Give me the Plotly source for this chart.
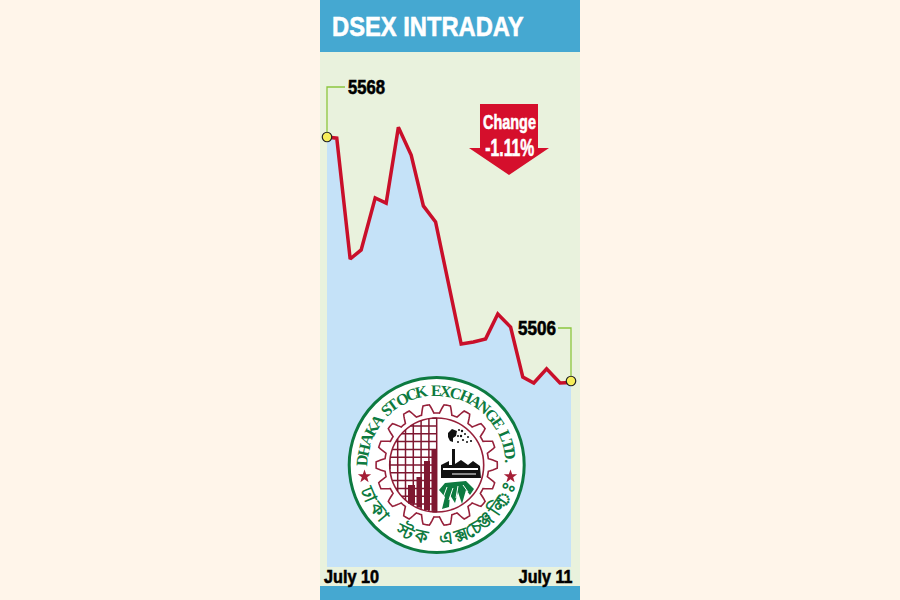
import json
import math
import plotly.graph_objects as go

times = [0, 0.8, 1.9, 2.8, 3.95, 4.85, 5.85, 6.9, 7.9, 8.9, 11.0, 12.0, 13.0, 14.0, 15.05, 16.05, 16.95, 18.0, 19.1, 20.0]
values = [5568.0, 5567.7, 5537.0, 5539.3, 5552.5, 5551.2, 5570.5, 5563.4, 5550.5, 5546.4, 5515.4, 5515.9, 5516.7, 5523.0, 5519.7, 5507.0, 5505.5, 5509.1, 5505.5, 5505.6]
title = "DSEX INTRADAY"
start_label, end_label = "July 10", "July 11"
high_label, low_label = "5568", "5506"
change_label, change_value = "Change", "-1.11%"
logo_top = "DHAKA STOCK EXCHANGE LTD."
logo_bottom = ["ঢা", "কা", "স্ট", "ক", "এ", "ক্স", "চে", "ঞ্জ", "লি", "ঃ"]
logo_bottom_angles = [203, 219, 244, 258, 277, 289, 300, 311, 326, 336]

W, H = 900, 600
def px(x): return x / W
def py(y): return 1 - y / H

BG, PANEL, HEAD = "#fff5ea", "#e9f2dd", "#45a8d1"
AREA, RED, LEAF, GREEN, MAROON = "#c5e2f8", "#c90f2a", "#8cc63f", "#0d7a40", "#7e1730"
SANS = "Liberation Sans"

fig = go.Figure()
shapes, ann = [], []

def rect(x0, y0, x1, y1, color, layer="below"):
    shapes.append(dict(type="rect", xref="paper", yref="paper", x0=px(x0), x1=px(x1), y0=py(y1), y1=py(y0),
                       fillcolor=color, line_width=0, layer=layer))
def poly(points, fill=None, line=None, width=1, layer="above", close=True):
    d = "M" + " L".join(f"{px(a):.5f},{py(b):.5f}" for a, b in points) + (" Z" if close else "")
    shapes.append(dict(type="path", xref="paper", yref="paper", path=d, fillcolor=fill or "rgba(0,0,0,0)",
                       line=dict(color=line or "rgba(0,0,0,0)", width=width if line else 0), layer=layer))
def circ(cx, cy, r, fill=None, line=None, width=1):
    shapes.append(dict(type="circle", xref="paper", yref="paper", x0=px(cx-r), x1=px(cx+r), y0=py(cy+r), y1=py(cy-r),
                       fillcolor=fill or "rgba(0,0,0,0)", line=dict(color=line or "rgba(0,0,0,0)", width=width if line else 0), layer="above"))
def text(x, y, s, size, color="black", font=SANS, anchor="center", angle=0, bold=True):
    ann.append(dict(xref="paper", yref="paper", x=px(x), y=py(y), text=f"<b>{s}</b>" if bold else s, showarrow=False,
                    xanchor=anchor, yanchor="middle", textangle=angle, borderpad=0, borderwidth=0,
                    font=dict(family=font, size=size, color=color)))

rect(320, 0, 580, 52, HEAD)
rect(320, 52, 580, 586, PANEL)
rect(320, 586, 580, 600, HEAD)

fig.add_trace(go.Scatter(x=times, y=values, mode="lines", fill="tozeroy", fillcolor=AREA,
                         line=dict(color=RED, width=3.5, shape="linear"), hoverinfo="skip"))
fig.add_trace(go.Scatter(x=[times[0], times[-1]], y=[values[0], 5506.0], mode="markers", cliponaxis=False,
                         marker=dict(color="#f6ee5a", size=9.5, line=dict(color="#222", width=1.2)), hoverinfo="skip"))

# leader lines
poly([(345, 87), (327, 87), (327, 132)], line=LEAF, width=1.3, close=False)
poly([(558, 328), (571, 328), (571, 376)], line=LEAF, width=1.3, close=False)
text(348, 87, high_label, 20, anchor="left")
text(518, 328, low_label, 20, anchor="left")

# change arrow
poly([(480, 104), (538, 104), (538, 148), (549, 148), (509, 175), (469, 148), (480, 148)], fill="#d50f2c")
text(509.5, 121, change_label, 21, color="white")
text(509.5, 148, change_value, 23, color="white")

text(324, 576, start_label, 19, anchor="left")
text(573, 576, end_label, 19, anchor="right")
text(332, 26, title, 28, color="white", anchor="left")

# logo
cx, cy = 436.7, 465
circ(cx, cy, 87.5, fill="white", line=GREEN, width=3)
gear = []
teeth = 18
for i in range(360):
    t = math.radians(i)
    wave = max(-1, min(1, 1.7 * math.cos(teeth * t)))
    r = 56.3 + 4.3 * wave
    gear.append((cx + r * math.cos(t), cy + r * math.sin(t)))
poly(gear, line="#96203a", width=1.6)
R = 47
circ(cx, cy, R, line="#96203a", width=1.6)
step = 7.8
for k in range(0, 7):
    x = cx - k * step
    h = math.sqrt(max(R*R - (x-cx)**2, 0))
    poly([(x, cy-h), (x, cy+h)], line=MAROON, width=1.5, close=False)
for k in range(-6, 7):
    y = cy + k * step
    h = math.sqrt(max(R*R - (y-cy)**2, 0))
    poly([(cx-h, y), (cx, y)], line=MAROON, width=1.5, close=False)
for x0, x1, top in [(408, 415, 485), (416.5, 422, 477), (424, 430, 461), (431.5, 437, 450)]:
    bot = cy + math.sqrt(R*R - ((x0+x1)/2-cx)**2) - 1
    poly([(x0, top), (x1, top), (x1, bot), (x0, bot)], fill=MAROON)
# factory
poly([(441, 478), (441, 465), (449, 461), (449, 465), (452, 465), (452, 449), (455, 449), (455, 464),
      (461, 460), (468, 465), (473, 461), (480, 466), (481, 478)], fill="#111")
poly([(443, 469), (478, 469)], line="white", width=2, close=False)
poly([(452, 474), (476, 474)], line="white", width=1, close=False)
# smoke
poly([(448, 433), (452, 429), (457, 431), (456, 436), (453, 438), (453, 442), (450, 441), (448, 437)], fill="#111")
for sx, sy, sr in [(459, 430, 1), (462, 431, 1.2), (465, 434, 1), (461, 436, 1.2), (458, 436, 1), (463, 440, 1.1),
                   (468, 437, 1), (471, 441, 1.1), (458, 442, 1), (467, 442, 1)]:
    circ(sx, sy, sr, fill="#111")
# palm
poly([(439, 490), (445, 483), (455, 482), (466, 481), (474, 489), (470, 495), (466, 490), (462, 504), (458, 492),
      (455, 503), (450, 495), (449, 507), (442, 509), (445, 497)], fill=GREEN)
for pts, w in [
    ([(447, 487), (443, 498)], 1),
    ([(453, 488), (449, 500)], 1),
    ([(458, 486), (456, 498)], 1),
    ([(463, 485), (468, 492)], 1),
]:
    poly(pts, line="white", width=w, close=False)

# ring text, letter by letter along the arc
glyph_w = {" ": .30, "I": .39, ".": .25, "T": .67, "L": .67, "S": .56, "E": .67, "H": .78, "D": .72, "O": .78,
           "K": .78, "C": .72, "A": .72, "X": .72, "N": .72, "G": .78, "R": .72}
ws = [glyph_w[c] for c in logo_top]
total = sum(ws) - ws[0] / 2 - ws[-1] / 2
start, end = 176, 3
pos = 0
for i, ch in enumerate(logo_top):
    if i:
        pos += (ws[i-1] + ws[i]) / 2
    if ch == " ":
        continue
    deg = start + (end - start) * pos / total
    a = math.radians(deg)
    text(cx + 74.5 * math.cos(a), cy - 74.5 * math.sin(a), ch, 16, color=GREEN, font="Liberation Serif",
         angle=90 - deg)
for sx in (364.5, 510.5):
    pts = []
    for j in range(10):
        r = 7 if j % 2 == 0 else 2.8
        t = -math.pi / 2 + j * math.pi / 5
        pts.append((sx + r * math.cos(t), 476.5 + r * math.sin(t)))
    poly(pts, fill="#a51e36")
for cluster, ang in zip(logo_bottom, logo_bottom_angles):
    a = math.radians(ang)
    text(cx + 73 * math.cos(a), cy - 73 * math.sin(a), cluster, 18, color=GREEN, font="Noto Sans", angle=270 - ang)

scale = 244 / 62
y_bottom = 5568 - (567 - 137) / scale
y_top = 5568 + (137 - 52) / scale
fig.update_layout(
    width=W, height=H, autosize=False, margin=dict(l=0, r=0, t=0, b=0), showlegend=False,
    paper_bgcolor=BG, plot_bgcolor="rgba(0,0,0,0)", shapes=shapes, annotations=ann,
    xaxis=dict(domain=[px(327), px(571)], range=[times[0], times[-1]], visible=False),
    yaxis=dict(domain=[py(567), py(52)], range=[y_bottom, y_top], visible=False),
)

# the reference uses a condensed face: narrow these labels to their measured widths
narrow = {title: 192, high_label: 37, low_label: 38, start_label: 55, end_label: 54, change_label: 53, change_value: 49}
post = """
document.body.style.margin='0';
var narrow = %s;
document.querySelectorAll('.annotation-text').forEach(function(t){
  var w = narrow[t.textContent];
  if(!w) return;
  var b = t.getBBox();
  var right = t.textContent === %s;
  var c = (t.textContent === %s || t.textContent === %s) ? b.x + b.width/2 : (right ? b.x + b.width : b.x);
  t.setAttribute('transform', 'translate('+c+',0) scale('+(w/b.width)+',1) translate('+(-c)+',0)');
  t.style.stroke = t.style.fill || 'black';
  t.style.strokeWidth = '0.6px';
});
""" % (json.dumps(narrow), json.dumps(end_label), json.dumps(change_label), json.dumps(change_value))
fig.write_html("out.html", post_script=post, config=dict(displayModeBar=False))
